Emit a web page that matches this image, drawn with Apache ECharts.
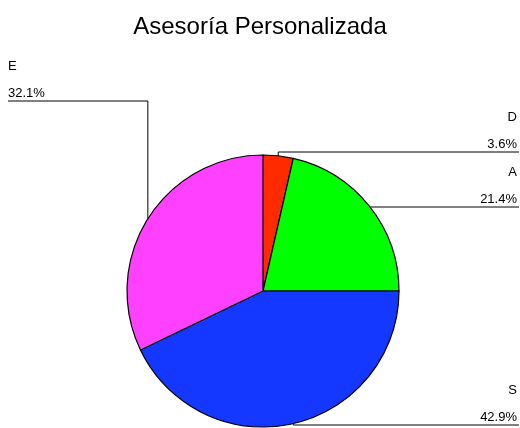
<!DOCTYPE html>
<html>
<head>
<meta charset="utf-8">
<script src="https://cdn.jsdelivr.net/npm/echarts@6/dist/echarts.min.js"></script>
<style>html,body{margin:0;padding:0;background:#fff}#c{width:520px;height:428px}</style>
</head>
<body>
<div id="c"></div>
<script>
const categories = ['D', 'A', 'S', 'E'];
const counts = [1, 6, 12, 9];
const colors = ['#ff2a00', '#00ff00', '#1438ff', '#ff40ff'];

// label placement (layout only)
const labelPlace = {
  D: { x: 517, lineY: 152, align: 'right', endX: 519 },
  A: { x: 517, lineY: 207, align: 'right', endX: 519 },
  S: { x: 517, lineY: 425, align: 'right', endX: 519 },
  E: { x: 8,   lineY: 101, align: 'left',  endX: 8 }
};

const chart = echarts.init(document.getElementById('c'), null, { renderer: 'canvas' });
chart.setOption({
  animation: false,
  backgroundColor: '#fff',
  title: {
    text: 'Asesoría Personalizada',
    left: 'center',
    top: 10,
    textStyle: { fontFamily: 'Liberation Sans, Arial, sans-serif', fontSize: 24, fontWeight: 'normal', color: '#000' }
  },
  series: [{
    type: 'pie',
    center: [263, 291],
    radius: 136,
    startAngle: 90,
    clockwise: true,
    percentPrecision: 1,
    emphasis: { disabled: true },
    itemStyle: { borderColor: '#000', borderWidth: 1.2 },
    label: {
      show: true,
      position: 'outside',
      formatter: '{b}\n\n{d}%',
      fontFamily: 'Liberation Sans, Arial, sans-serif',
      fontSize: 13,
      lineHeight: 13.5,
      color: '#000'
    },
    labelLine: { show: true, length: 10, length2: 10, lineStyle: { color: '#000', width: 1 } },
    labelLayout: function (params) {
      const name = categories[params.dataIndex];
      const p = labelPlace[name];
      const pts = params.labelLinePoints;
      const p0 = pts ? pts[0] : [0, 0];
      return {
        x: p.x,
        y: p.lineY - 1,
        align: p.align,
        verticalAlign: 'bottom',
        labelLinePoints: [[p0[0], p0[1]], [p0[0], p.lineY], [p.endX, p.lineY]]
      };
    },
    data: categories.map((c, i) => ({ name: c, value: counts[i], itemStyle: { color: colors[i] } }))
  }]
});
</script>
</body>
</html>
